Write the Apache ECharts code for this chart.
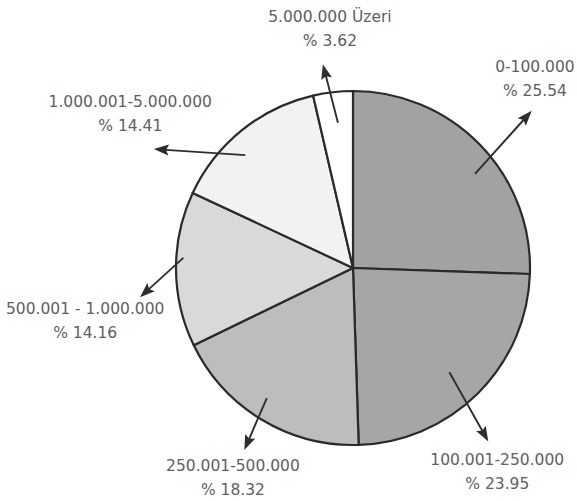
<!DOCTYPE html>
<html><head><meta charset="utf-8">
<script src="https://cdn.jsdelivr.net/npm/echarts@6/dist/echarts.min.js"></script>
<style>html,body{margin:0;padding:0;background:#fff}#c{width:577px;height:501px}</style>
</head><body><div id="c"></div>
<script>
// ---- data ----
const categories = ['0-100.000', '100.001-250.000', '250.001-500.000', '500.001 - 1.000.000', '1.000.001-5.000.000', '5.000.000 Üzeri'];
const shares = [25.54, 23.95, 18.32, 14.16, 14.41, 3.62];
const shareLabels = ['% 25.54', '% 23.95', '% 18.32', '% 14.16', '% 14.41', '% 3.62'];
const sliceColors = ['#a2a2a2', '#a6a6a6', '#bdbdbd', '#d9d9d9', '#f2f2f2', '#ffffff'];

// ---- layout (pie geometry + annotation offsets relative to each slice's mid-angle) ----
const CX = 353, CY = 268, R = 177;
const annot = [
  { a0: 6.4, r0: 154, a1: 2.7, r1: 238, la: -2.0, lr: 262 },
  { a0: 2.2, r0: 142, a1: 7.0, r1: 220, la: 9.7, lr: 250 },
  { a0: 2.4, r0: 156, a1: -0.3, r1: 212, la: -1.4, lr: 242 },
  { a0: 3.8, r0: 170, a1: -7.4, r1: 215, la: -10.8, lr: 273 },
  { a0: -4.7, r0: 156, a1: -20.2, r1: 232, la: -16.3, lr: 271 },
  { a0: 0.6, r0: 146, a1: -1.9, r1: 206, la: 1.0, lr: 240 }
];

const total = shares.reduce((s, v) => s + v, 0);
function polar(deg, r) {
  const t = deg * Math.PI / 180;
  return [CX + r * Math.sin(t), CY - r * Math.cos(t)];
}

const graphics = [];
let acc = 0;
shares.forEach((v, i) => {
  const mid = (acc + v / 2) / total * 360;
  acc += v;
  const A = annot[i];
  const p0 = polar(mid + A.a0, A.r0);
  const p1 = polar(mid + A.a1, A.r1);
  const dx = p1[0] - p0[0], dy = p1[1] - p0[1];
  const len = Math.hypot(dx, dy);
  const ux = dx / len, uy = dy / len;
  const HL = 15, HW = 5.5;
  const base = [p1[0] - ux * HL, p1[1] - uy * HL];
  graphics.push({
    type: 'line', z: 100,
    shape: { x1: p0[0], y1: p0[1], x2: base[0] + ux * 3, y2: base[1] + uy * 3 },
    style: { stroke: '#2e2e2e', lineWidth: 1.9 }
  });
  graphics.push({
    type: 'polygon', z: 100,
    shape: { points: [p1, [base[0] - uy * HW, base[1] + ux * HW], [p1[0] - ux * HL * 0.82, p1[1] - uy * HL * 0.82], [base[0] + uy * HW, base[1] - ux * HW]] },
    style: { fill: '#2e2e2e' }
  });
  const lp = polar(mid + A.la, A.lr);
  graphics.push({
    type: 'text', z: 100,
    style: {
      text: categories[i] + '\n' + shareLabels[i],
      x: lp[0], y: lp[1],
      textAlign: 'center', textVerticalAlign: 'middle',
      fontFamily: 'DejaVu Sans', fontSize: 15.5, lineHeight: 24,
      fill: '#606060'
    }
  });
});

const chart = echarts.init(document.getElementById('c'), null, { renderer: 'svg' });
chart.setOption({
  animation: false,
  backgroundColor: '#ffffff',
  series: [{
    type: 'pie',
    center: [CX, CY],
    radius: R,
    startAngle: 90,
    clockwise: true,
    silent: true,
    label: { show: false },
    labelLine: { show: false },
    itemStyle: { borderColor: '#2a2a2a', borderWidth: 2.2 },
    data: categories.map((c, i) => ({ name: c, value: shares[i], itemStyle: { color: sliceColors[i] } }))
  }],
  graphic: graphics
});
</script>
</body></html>
